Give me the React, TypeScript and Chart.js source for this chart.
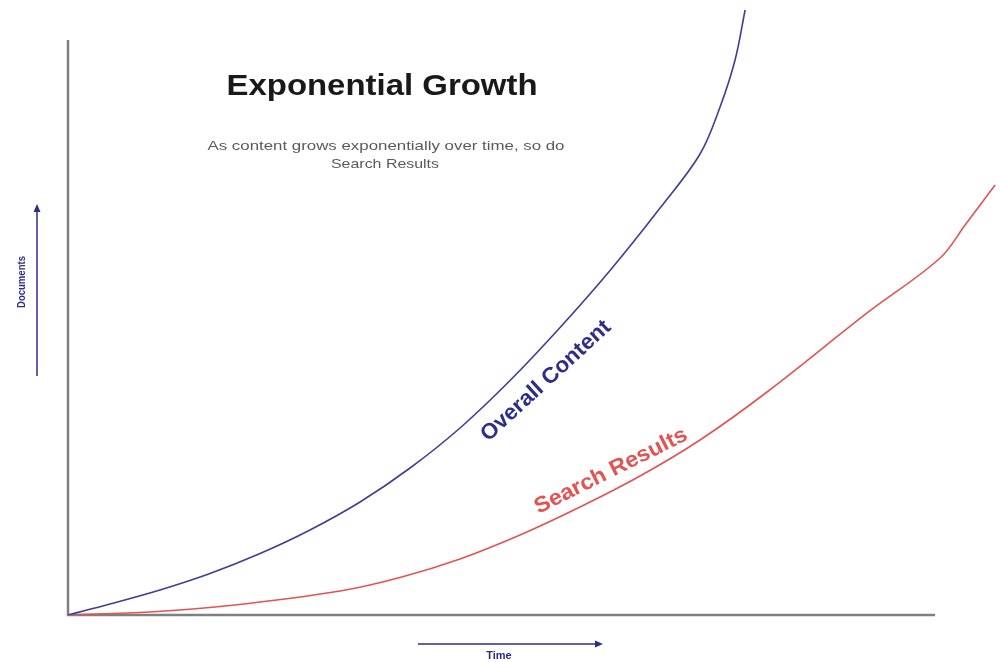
import { useEffect, useRef } from "react";
import { Chart, registerables } from "chart.js";

Chart.register(...registerables);

// Time units (0..100 = length of drawn time axis) and Documents units (0..100)
const TIME_CONTENT = [0, 4.84, 10.61, 16.38, 22.15, 27.91, 33.68, 39.45, 45.21, 50.98, 56.75, 62.51, 68.28, 72.89, 75.2, 76.93, 78.09];
const OVERALL_CONTENT = [0, 1.79, 4.07, 6.75, 9.99, 13.82, 18.37, 23.9, 30.41, 38.13, 46.75, 56.02, 66.18, 74.96, 82.6, 90.24, 98.37];

const TIME_SEARCH = [0, 9.46, 18.69, 31.37, 38.29, 45.21, 52.13, 59.05, 65.97, 72.89, 80.62, 92.16, 100.58, 103.46, 106.92];
const SEARCH_RESULTS = [0, 0.49, 1.54, 3.9, 6.1, 9.11, 13.01, 17.56, 22.6, 28.46, 36.26, 49.11, 58.05, 63.41, 69.92];

const TITLE = "Exponential Growth";
const SUBTITLE_LINES = ["As content grows exponentially over time, so do", "Search Results"];
const SERIES_LABELS = ["Overall Content", "Search Results"];
const X_LABEL = "Time";
const Y_LABEL = "Documents";
const X_AXIS_END = 100;
const Y_AXIS_END = 93.5;

const BLUE = "rgb(62,62,150)";
const RED = "rgb(228,82,82)";
const NAVY = "rgb(45,45,140)";

function fitText(
  ctx: CanvasRenderingContext2D,
  text: string,
  x: number,
  y: number,
  font: string,
  width: number,
  color: string,
  angle = 0
) {
  ctx.save();
  ctx.font = font;
  ctx.fillStyle = color;
  ctx.textAlign = "center";
  ctx.textBaseline = "middle";
  ctx.translate(x, y);
  ctx.rotate(angle);
  const w = ctx.measureText(text).width;
  const s = width > 0 ? width / w : 1;
  ctx.scale(s, 1);
  ctx.fillText(text, 0, 0);
  ctx.restore();
}

function arrow(ctx: CanvasRenderingContext2D, x1: number, y1: number, x2: number, y2: number, color: string) {
  const ang = Math.atan2(y2 - y1, x2 - x1);
  const len = 8;
  const hw = 3.5;
  ctx.save();
  ctx.strokeStyle = color;
  ctx.fillStyle = color;
  ctx.lineWidth = 1.5;
  ctx.beginPath();
  ctx.moveTo(x1, y1);
  ctx.lineTo(x2 - Math.cos(ang) * len, y2 - Math.sin(ang) * len);
  ctx.stroke();
  ctx.beginPath();
  ctx.moveTo(x2, y2);
  ctx.lineTo(x2 - Math.cos(ang) * len - Math.sin(ang) * hw, y2 - Math.sin(ang) * len + Math.cos(ang) * hw);
  ctx.lineTo(x2 - Math.cos(ang) * len + Math.sin(ang) * hw, y2 - Math.sin(ang) * len - Math.cos(ang) * hw);
  ctx.closePath();
  ctx.fill();
  ctx.restore();
}

const decorPlugin = {
  id: "decor",
  beforeDatasetsDraw(chart: any) {
    const ctx: CanvasRenderingContext2D = chart.ctx;
    const xs = chart.scales.x;
    const ys = chart.scales.y;
    const x0 = xs.getPixelForValue(0);
    const y0 = ys.getPixelForValue(0);
    const xEnd = xs.getPixelForValue(X_AXIS_END);
    const yEnd = ys.getPixelForValue(Y_AXIS_END);
    ctx.save();
    ctx.strokeStyle = "rgb(128,128,128)";
    ctx.lineWidth = 2.5;
    ctx.beginPath();
    ctx.moveTo(x0, yEnd);
    ctx.lineTo(x0, y0);
    ctx.lineTo(xEnd, y0);
    ctx.stroke();
    ctx.restore();
  },
  afterDatasetsDraw(chart: any) {
    const ctx: CanvasRenderingContext2D = chart.ctx;
    const F = "'Liberation Sans', Arial, sans-serif";
    fitText(ctx, TITLE, 382, 87, `bold 30px ${F}`, 311, "rgb(25,25,25)");
    fitText(ctx, SUBTITLE_LINES[0], 386, 146, `13.5px ${F}`, 357, "rgb(90,90,90)");
    fitText(ctx, SUBTITLE_LINES[1], 385, 164, `13.5px ${F}`, 108, "rgb(90,90,90)");
    fitText(ctx, SERIES_LABELS[0], 546, 381, `bold 22px ${F}`, 168, NAVY, (-42.5 * Math.PI) / 180);
    fitText(ctx, SERIES_LABELS[1], 611, 471, `bold 22px ${F}`, 168, RED, (-26.5 * Math.PI) / 180);
    fitText(ctx, Y_LABEL, 22, 282, `bold 11px ${F}`, 52, NAVY, -Math.PI / 2);
    arrow(ctx, 37, 376, 37, 204, NAVY);
    fitText(ctx, X_LABEL, 499, 656, `bold 11px ${F}`, 0, NAVY);
    arrow(ctx, 418, 644, 603, 644, NAVY);
  },
};

export default function App() {
  const ref = useRef<HTMLCanvasElement | null>(null);
  useEffect(() => {
    if (!ref.current) return;
    const chart = new Chart(ref.current, {
      type: "line",
      data: {
        datasets: [
          {
            label: SERIES_LABELS[0],
            data: TIME_CONTENT.map((t, i) => ({ x: t, y: OVERALL_CONTENT[i] })),
            borderColor: BLUE,
            borderWidth: 1.6,
            pointRadius: 0,
            tension: 0.35,
            fill: false,
          },
          {
            label: SERIES_LABELS[1],
            data: TIME_SEARCH.map((t, i) => ({ x: t, y: SEARCH_RESULTS[i] })),
            borderColor: RED,
            borderWidth: 1.6,
            pointRadius: 0,
            tension: 0.35,
            fill: false,
          },
        ],
      },
      options: {
        responsive: false,
        animation: false,
        devicePixelRatio: 1,
        layout: { padding: { left: 68, right: 0, top: 0, bottom: 47 } },
        plugins: { legend: { display: false }, tooltip: { enabled: false }, title: { display: false } },
        scales: {
          x: { type: "linear", min: 0, max: 107.6, display: false },
          y: { type: "linear", min: 0, max: 100, display: false },
        },
      },
      plugins: [decorPlugin],
    } as any);
    return () => chart.destroy();
  }, []);
  return (
    <div style={{ position: "absolute", left: 0, top: 0, width: 1001, height: 662, background: "#fff" }}>
      <canvas ref={ref} width={1001} height={662} style={{ display: "block" }} />
    </div>
  );
}
